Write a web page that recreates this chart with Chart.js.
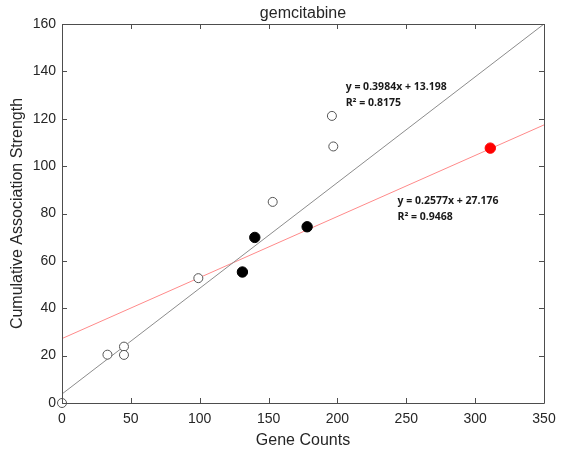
<!DOCTYPE html>
<html>
<head>
<meta charset="utf-8">
<script src="https://cdn.jsdelivr.net/npm/chart.js@4"></script>
<style>
  body { margin: 0; background: #fff; }
  #wrap { width: 562px; height: 453px; }
</style>
</head>
<body>
<div id="wrap"><canvas id="chart" width="562" height="453"></canvas></div>
<script>
// values
const openX = [0, 33, 45, 45, 99, 153, 196, 197];
const openY = [0, 20.4, 23.8, 20.3, 52.7, 84.9, 121.2, 108.3];
const filledX = [131, 140, 178];
const filledY = [55.3, 69.9, 74.4];
const redX = [311];
const redY = [107.6];
const grayLineX = [0, 350];
const grayLineY = [3.8, 160];
const redLineX = [0, 350];
const redLineY = [27.2, 117.4];
const xTicks = [0, 50, 100, 150, 200, 250, 300, 350];
const yTicks = [0, 20, 40, 60, 80, 100, 120, 140, 160];
const chartTitle = 'gemcitabine';
const labels = [
    { lines: ['y = 0.3984x + 13.198', 'R² = 0.8175'] },
    { lines: ['y = 0.2577x + 27.176', 'R² = 0.9468'] }
];

const pts = (xs, ys) => xs.map((x, i) => ({ x: x, y: ys[i] }));
const textColor = '#262626';
const axisColor = '#4d4d4d';

// box around the plot with MATLAB style inward ticks, title and the fit labels
const framePlugin = {
    id: 'frame',
    afterDatasetsDraw(chart, args, opts) {
        const { ctx, chartArea: a, scales } = chart;
        const len = 5;
        ctx.save();
        ctx.strokeStyle = axisColor;
        ctx.lineWidth = 1;
        ctx.beginPath();
        ctx.rect(a.left + 0.5, a.top + 0.5, a.right - a.left, a.bottom - a.top);
        xTicks.forEach(v => {
            const px = Math.round(scales.x.getPixelForValue(v)) + 0.5;
            ctx.moveTo(px, a.bottom); ctx.lineTo(px, a.bottom - len);
            ctx.moveTo(px, a.top); ctx.lineTo(px, a.top + len);
        });
        yTicks.forEach(v => {
            const py = Math.round(scales.y.getPixelForValue(v)) + 0.5;
            ctx.moveTo(a.left, py); ctx.lineTo(a.left + len, py);
            ctx.moveTo(a.right, py); ctx.lineTo(a.right - len, py);
        });
        ctx.stroke();

        ctx.fillStyle = textColor;
        ctx.font = '16px "Liberation Sans"';
        ctx.textAlign = 'center';
        ctx.textBaseline = 'alphabetic';
        ctx.fillText(chartTitle, (a.left + a.right) / 2, a.top - 6);

        ctx.fillStyle = '#1a1a1a';
        ctx.font = 'bold 10.5px "Open Sans"';
        ctx.textAlign = 'left';
        ctx.textBaseline = 'middle';
        opts.spots.forEach((s, i) => {
            const px = scales.x.getPixelForValue(s.x);
            const py = scales.y.getPixelForValue(s.y);
            labels[i].lines.forEach((t, j) => ctx.fillText(t, px, py + j * 16));
        });
        ctx.restore();
    }
};

new Chart(document.getElementById('chart'), {
    type: 'scatter',
    data: {
        datasets: [
            {
                data: pts(openX, openY),
                pointRadius: 4.5,
                pointBackgroundColor: '#fff',
                pointBorderColor: '#555',
                pointBorderWidth: 1,
                clip: false,
                order: 1
            },
            {
                data: pts(filledX, filledY),
                pointRadius: 5.2,
                pointBackgroundColor: '#000',
                pointBorderColor: '#000',
                order: 1
            },
            {
                data: pts(redX, redY),
                pointRadius: 5.2,
                pointBackgroundColor: '#ff0000',
                pointBorderColor: '#ff0000',
                order: 1
            },
            {
                type: 'line',
                data: pts(grayLineX, grayLineY),
                borderColor: '#8c8c8c',
                borderWidth: 1,
                pointRadius: 0,
                order: 2
            },
            {
                type: 'line',
                data: pts(redLineX, redLineY),
                borderColor: '#ff8a8a',
                borderWidth: 1,
                pointRadius: 0,
                order: 2
            }
        ]
    },
    options: {
        responsive: false,
        animation: false,
        layout: { padding: { top: 24, right: 18, left: 0, bottom: 0 } },
        plugins: {
            legend: { display: false },
            tooltip: { enabled: false },
            title: { display: false },
            frame: {
                spots: [{ x: 206, y: 133.5 }, { x: 243.6, y: 85.4 }]
            }
        },
        scales: {
            x: {
                type: 'linear',
                min: 0,
                max: 350,
                afterBuildTicks: s => { s.ticks = xTicks.map(v => ({ value: v })); },
                afterFit: s => { s.height = 50; s.paddingRight = 0; s.paddingLeft = 0; },
                grid: { display: false, drawTicks: false },
                border: { display: false },
                ticks: {
                    color: textColor,
                    padding: 8,
                    maxRotation: 0,
                    font: { family: 'Liberation Sans', size: 14 }
                },
                title: {
                    display: true,
                    text: 'Gene Counts',
                    color: textColor,
                    font: { family: 'Liberation Sans', size: 16 },
                    padding: { top: 0, bottom: 3 }
                }
            },
            y: {
                type: 'linear',
                min: 0,
                max: 160,
                afterBuildTicks: s => { s.ticks = yTicks.map(v => ({ value: v })); },
                afterFit: s => { s.width = 62; },
                grid: { display: false, drawTicks: false },
                border: { display: false },
                ticks: {
                    color: textColor,
                    padding: 6,
                    font: { family: 'Liberation Sans', size: 14 }
                },
                title: {
                    display: true,
                    text: 'Cumulative Association Strength',
                    color: textColor,
                    font: { family: 'Liberation Sans', size: 16 },
                    padding: { top: 8, bottom: 0 }
                }
            }
        }
    },
    plugins: [framePlugin]
});
</script>
</body>
</html>
